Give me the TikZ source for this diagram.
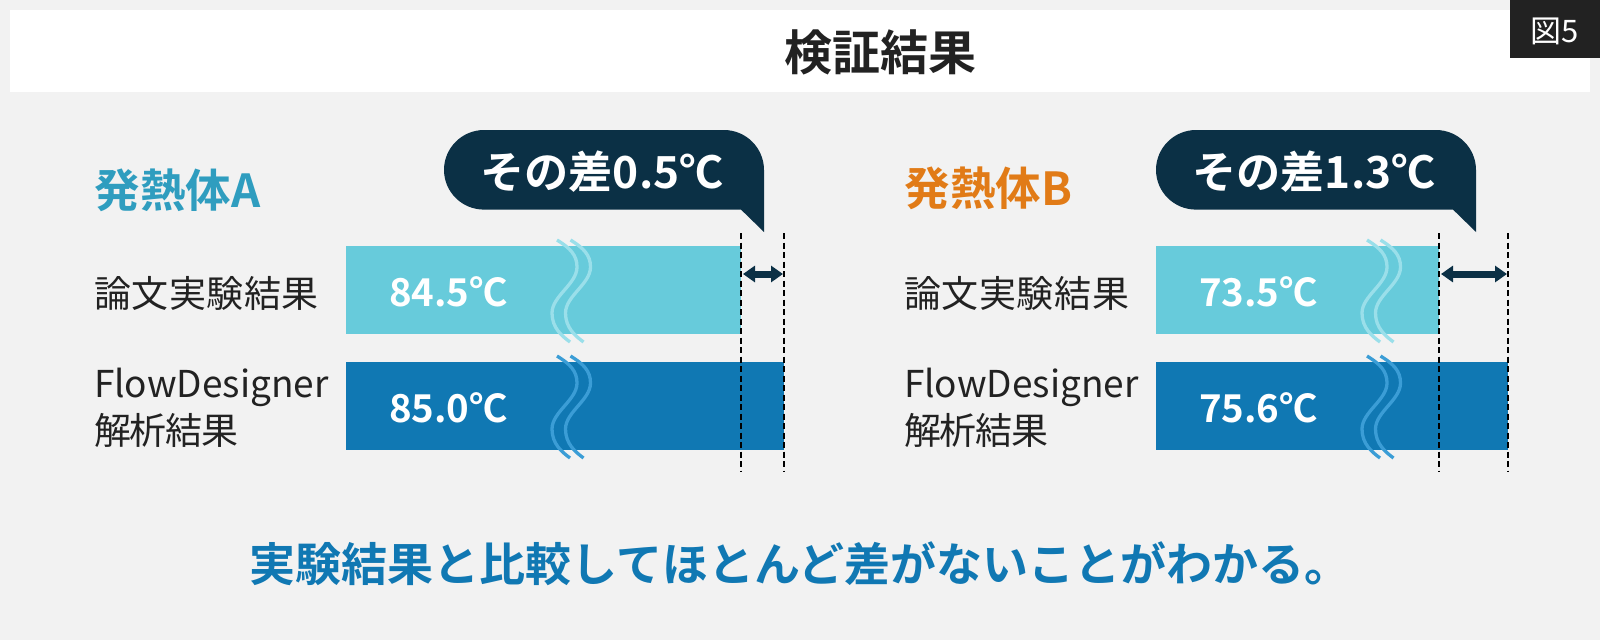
\documentclass[tikz,border=0pt]{standalone}
\usepackage{fontspec}
\setmainfont{Noto Sans CJK JP}
\newfontfamily\bfjp{Noto Sans CJK JP Bold}
\usetikzlibrary{arrows.meta}
\definecolor{bgc}{HTML}{F2F2F2}
\definecolor{navy}{HTML}{0B3045}
\definecolor{lightbar}{HTML}{67CBDB}
\definecolor{darkbar}{HTML}{1078B3}
\definecolor{lightwave}{HTML}{9ADFEA}
\definecolor{darkwave}{HTML}{3B9DD6}
\definecolor{teal}{HTML}{2F9DBF}
\definecolor{orangeh}{HTML}{E17B17}
\definecolor{ink}{HTML}{222222}
\tikzset{
 x=1pt,y=-1pt,
 txt/.style={inner sep=0,outer sep=0,anchor=west,align=left},
 rowlabel/.style={txt,text=ink,font=\fontsize{37}{47}\selectfont},
 heading/.style={txt,font=\bfjp\fontsize{45.5}{50}\selectfont},
 value/.style={txt,text=white,font=\bfjp\fontsize{38.4}{40}\selectfont},
 bubbletext/.style={inner sep=0,outer sep=0,text=white,font=\bfjp\fontsize{44.2}{48}\selectfont},
 guide/.style={draw=black,line width=2pt,dash pattern=on 6pt off 3.5pt},
 diffarrow/.style={draw=navy,line width=7pt,{Triangle[length=12pt,width=16pt]}-{Triangle[length=12pt,width=16pt]},shorten >=0pt,shorten <=0pt},
 wave/.style={line width=3.3pt},
}
\newcommand{\wavepair}[3]{%
 \foreach \dx in {0,13.5}{
  \draw[wave,draw=#3] ({#1+\dx-11},{#2-6}) .. controls ({#1+\dx+2},{#2+2}) and ({#1+\dx+9},{#2+9}) .. ({#1+\dx+9},{#2+21})
   .. controls ({#1+\dx+9},{#2+38}) and ({#1+\dx-16},{#2+50}) .. ({#1+\dx-16},{#2+67})
   .. controls ({#1+\dx-16},{#2+82}) and ({#1+\dx-6},{#2+90}) .. ({#1+\dx+2},{#2+96});
 }}
\newcommand{\panel}[7]{%
 % #1 prefix, #2 bar left, #3 bar1 right, #4 bar2 right, #5 bubble left, #6 value1, #7 value2
 \fill[lightbar] (#2,246) rectangle (#3,334);
 \fill[darkbar] (#2,362) rectangle (#4,450);
 \wavepair{#2+222}{246}{lightwave}
 \wavepair{#2+222}{362}{darkwave}
 \node[value] (#1v1) at (#2+43,292) {#6};
 \node[value] (#1v2) at (#2+43,408) {#7};
 \coordinate (#1g1a) at (#3,233); \coordinate (#1g1b) at (#3,472);
 \coordinate (#1g2a) at (#4,233); \coordinate (#1g2b) at (#4,472);
 \draw[guide] (#1g1a) -- (#1g1b);
 \draw[guide] (#1g2a) -- (#1g2b);
 \coordinate (#1al) at (#3+2,274); \coordinate (#1ar) at (#4-1,274);
 \draw[diffarrow] (#1al) -- (#1ar);
 \fill[navy] (#5+40,130) -- (#5+280,130)
   .. controls (#5+302,130) and (#5+320,148) .. (#5+320,170)
   -- (#5+320,232) -- (#5+297,209.6) -- (#5+40,209.6)
   .. controls (#5+18,209.6) and (#5,192) .. (#5,169.8)
   .. controls (#5,148) and (#5+18,130) .. (#5+40,130) -- cycle;
}
\begin{document}
\begin{tikzpicture}
\useasboundingbox (0,0) rectangle (1600,640);
\fill[bgc] (0,0) rectangle (1600,640);
\fill[white] (10,10) rectangle (1590,92);
\fill[ink] (1510,0) rectangle (1600,58);
\node[inner sep=0,text=white,font=\fontsize{31}{34}\selectfont] (fig) at (1555,31) {図5};
\node[inner sep=0,text=ink,font=\bfjp\fontsize{48}{52}\selectfont] (title) at (880.5,52) {検証結果};
\panel{a}{346}{741}{784}{444}{84.5℃}{85.0℃}
\panel{b}{1156}{1439}{1508}{1156}{73.5℃}{75.6℃}
\node[bubbletext] (ba) at (602,172) {その差0.5℃};
\node[bubbletext] (bb) at (1314,172) {その差1.3℃};
\node[heading,text=teal] (ha) at (94.5,190) {発熱体A};
\node[heading,text=orangeh] (hb) at (904.5,188) {発熱体B};
\node[rowlabel] (la1) at (94,293) {論\kern0.6pt 文\kern0.6pt 実\kern0.6pt 験\kern0.6pt 結\kern0.6pt 果};
\node[rowlabel] (la2) at (94,408) {FlowDesigner\\解\kern-1.3pt 析\kern-1.3pt 結\kern-1.3pt 果};
\node[rowlabel] (lb1) at (904,293) {論\kern0.6pt 文\kern0.6pt 実\kern0.6pt 験\kern0.6pt 結\kern0.6pt 果};
\node[rowlabel] (lb2) at (904,408) {FlowDesigner\\解\kern-1.3pt 析\kern-1.3pt 結\kern-1.3pt 果};
\node[inner sep=0,text=darkbar,font=\bfjp\fontsize{46}{50}\selectfont] (concl) at (800,564) {実験結果と比較してほとんど差がないことがわかる。};
\end{tikzpicture}
\end{document}
